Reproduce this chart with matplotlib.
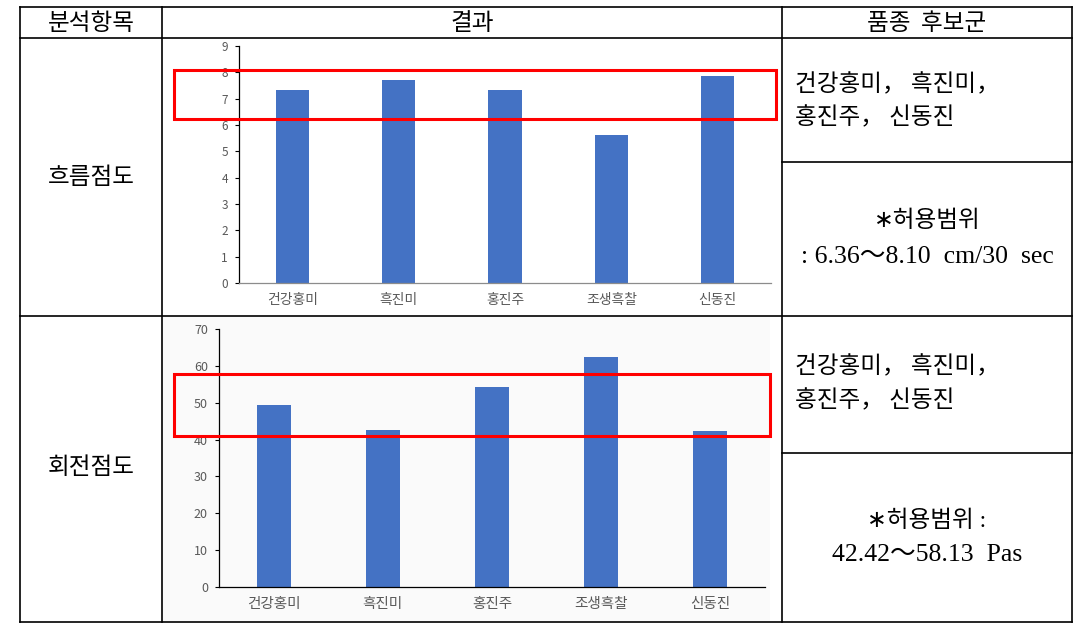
import matplotlib
matplotlib.use("Agg")
import matplotlib.pyplot as plt
import matplotlib.transforms as mtransforms
from matplotlib.patches import Rectangle

plt.rcParams['font.family'] = ['Noto Sans CJK KR', 'DejaVu Sans']

# data
varieties = ['건강홍미', '흑진미', '홍진주', '조생흑찰', '신동진']
flow_visc = [7.32, 7.70, 7.32, 5.62, 7.85]        # 흐름점도 (cm/30 sec)
rot_visc = [49.4, 42.5, 54.3, 62.4, 42.4]         # 회전점도 (Pas)
flow_box = [6.22, 8.08]     # red highlight box, data units
rot_box = [40.9, 57.7]

headers = ['분석항목', '결과', '품종  후보군']
row_names = ['흐름점도', '회전점도']
candidates = ['건강홍미， 흑진미，', '홍진주， 신동진']
flow_range = ['∗허용범위', ': 6.36～8.10  cm/30  sec']
rot_range = ['∗허용범위 :', '42.42～58.13  Pas']

W, H = 1082, 628
fig = plt.figure(figsize=(W / 100, H / 100), dpi=100)
fig.patch.set_facecolor('white')


def box(x0, y0, x1, y1):
    # pixel box (top-left origin) -> figure fraction rect
    return [x0 / W, 1 - y1 / H, (x1 - x0) / W, (y1 - y0) / H]


# table layer in pixel coords
tab = fig.add_axes([0, 0, 1, 1], zorder=0)
tab.set_xlim(0, W)
tab.set_ylim(H, 0)
tab.axis('off')

# faint chart area of the second row
tab.add_patch(Rectangle((163, 317), 607, 304, facecolor='#fafafa', edgecolor='none'))

lw = 1.2
xl, xc1, xc2, xr = 20, 162, 782, 1072
yt, yh, ym, yb = 7, 38, 316, 622
for y in (yt, yh, ym, yb):
    tab.plot([xl, xr], [y, y], color='black', lw=lw)
for x in (xl, xc1, xc2, xr):
    tab.plot([x, x], [yt, yb], color='black', lw=lw)
for y in (162, 453):
    tab.plot([xc2, xr], [y, y], color='black', lw=lw)

serif = ['Liberation Serif', 'Noto Sans CJK KR', 'DejaVu Sans']
kfs = 17
tab.text(91, 23, headers[0], ha='center', va='center', fontsize=kfs)
tab.text(472, 23, headers[1], ha='center', va='center', fontsize=kfs)
tab.text(927, 23, headers[2], ha='center', va='center', fontsize=kfs)
tab.text(91, 178, row_names[0], ha='center', va='center', fontsize=kfs)
tab.text(91, 468, row_names[1], ha='center', va='center', fontsize=kfs)

for yy, line in zip((85, 118), candidates):
    tab.text(795, yy, line, ha='left', va='center', fontsize=kfs)
for yy, line in zip((367, 401), candidates):
    tab.text(795, yy, line, ha='left', va='center', fontsize=kfs)

tab.text(927, 221, flow_range[0], ha='center', va='center', fontsize=kfs, family=serif)
tab.text(927, 257, flow_range[1], ha='center', va='center', fontsize=18.5, family=serif)
tab.text(927, 521, rot_range[0], ha='center', va='center', fontsize=kfs, family=serif)
tab.text(927, 555, rot_range[1], ha='center', va='center', fontsize=18.5, family=serif)


def bar_chart(rect, values, ymax, step, bottom_color, tick_fs, cat_fs):
    ax = fig.add_axes(rect, zorder=2)
    ax.patch.set_alpha(0)
    x = range(len(varieties))
    ax.bar(x, values, width=0.313, color='#4472c4')
    ax.set_xlim(-0.5, len(varieties) - 0.5)
    ax.set_ylim(0, ymax)
    ax.set_yticks(range(0, ymax + 1, step))
    ax.set_xticks(list(x))
    ax.set_xticklabels(varieties, fontsize=cat_fs, color='#595959')
    ax.tick_params(axis='x', length=0, pad=7)
    ax.tick_params(axis='y', length=3, width=0.8, color='black', labelsize=tick_fs,
                   labelcolor='#595959', pad=5)
    for s in ('top', 'right'):
        ax.spines[s].set_visible(False)
    ax.spines['left'].set_color('black')
    ax.spines['left'].set_linewidth(0.9)
    ax.spines['bottom'].set_color(bottom_color)
    ax.spines['bottom'].set_linewidth(0.9)
    trans = mtransforms.blended_transform_factory(ax.transAxes, ax.transData)
    return ax, trans


ax1, tr1 = bar_chart(box(239, 46, 771, 283), flow_visc, 9, 1, '#8c8c8c', 8.5, 10)
ax1.add_patch(Rectangle((-0.1226, flow_box[0]), 1.1312, flow_box[1] - flow_box[0],
                        transform=tr1, fill=False, edgecolor='#ff0000', lw=2.2,
                        clip_on=False, zorder=5))

ax2, tr2 = bar_chart(box(219, 329, 765, 587), rot_visc, 70, 10, 'black', 9, 10.5)
ax2.add_patch(Rectangle((-0.0828, rot_box[0]), 1.0918, rot_box[1] - rot_box[0],
                        transform=tr2, fill=False, edgecolor='#ff0000', lw=2.2,
                        clip_on=False, zorder=5))

fig.savefig('out.png', dpi=100)
